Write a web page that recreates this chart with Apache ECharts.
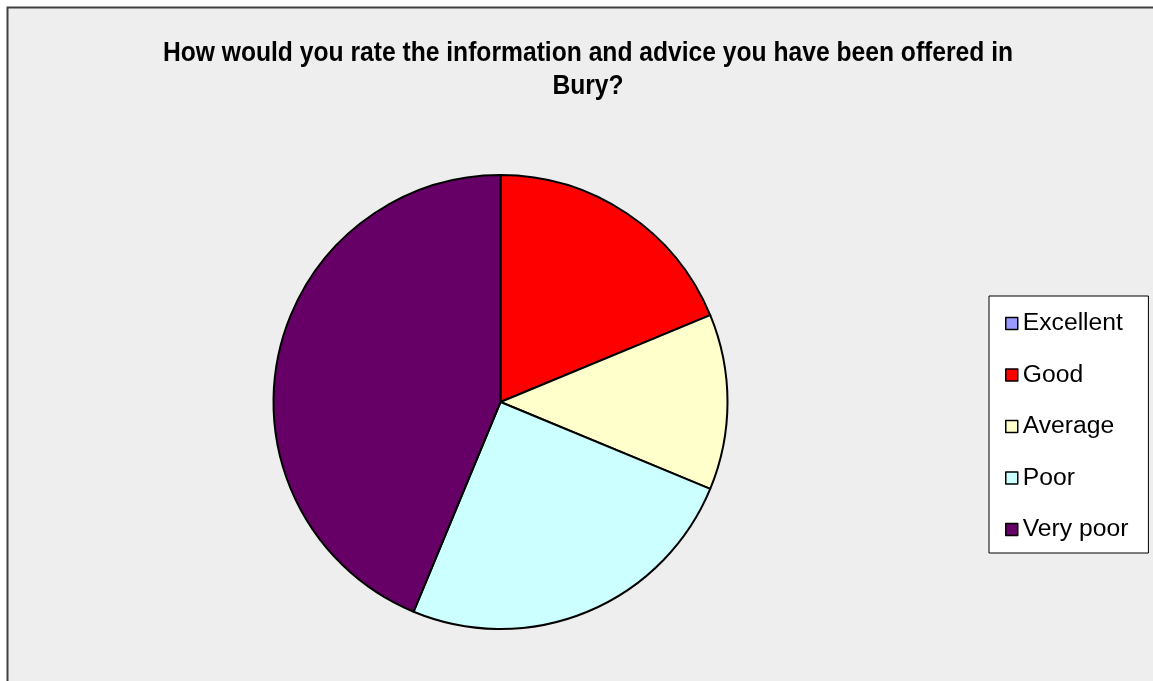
<!DOCTYPE html>
<html>
<head>
<meta charset="utf-8">
<script src="https://cdn.jsdelivr.net/npm/echarts@6/dist/echarts.min.js"></script>
<style>
  html, body { margin: 0; padding: 0; background: #ffffff; }
  #chart { width: 1153px; height: 681px; }
</style>
</head>
<body>
<div id="chart"></div>
<script>
// Survey responses: rating of information and advice offered in Bury
const categories = ['Excellent', 'Good', 'Average', 'Poor', 'Very poor'];
const responses = [0, 3, 2, 4, 7];
const sliceColors = ['#9999ff', '#ff0000', '#ffffcc', '#ccffff', '#660066'];
const titleText = 'How would you rate the information and advice you have been offered in\nBury?';

const chart = echarts.init(document.getElementById('chart'));

chart.setOption({
  animation: false,
  backgroundColor: '#ffffff',
  graphic: [
    {
      // chart area frame
      type: 'rect',
      shape: { x: 7.5, y: 7.5, width: 1150, height: 680 },
      style: { fill: '#eeeeee', stroke: '#404040', lineWidth: 2 },
      z: -10
    },
    {
      // condensed bold heading, two lines
      type: 'text',
      x: 588,
      y: 69.5,
      scaleX: 0.88,
      style: {
        text: titleText,
        fontFamily: 'Liberation Sans, Arial, sans-serif',
        fontSize: 28,
        fontWeight: 'bold',
        lineHeight: 33,
        fill: '#000000',
        align: 'center',
        verticalAlign: 'middle'
      }
    }
  ],
  legend: {
    orient: 'vertical',
    left: 989,
    top: 296,
    width: 158,
    padding: [15, 20, 11, 16],
    backgroundColor: '#ffffff',
    borderColor: '#000000',
    borderWidth: 1,
    borderRadius: 0,
    itemWidth: 12,
    itemHeight: 12,
    itemGap: 26.5,
    icon: 'rect',
    itemStyle: { borderColor: '#000000', borderWidth: 1.5 },
    textStyle: {
      fontFamily: 'Liberation Sans, Arial, sans-serif',
      fontSize: 24.7,
      color: '#000000',
      height: 24,
      lineHeight: 24
    },
    data: categories
  },
  series: [{
    type: 'pie',
    center: [500.5, 402],
    radius: [0, 227],
    startAngle: 90,
    clockwise: true,
    label: { show: false },
    labelLine: { show: false },
    emphasis: { disabled: true },
    itemStyle: { borderColor: '#000000', borderWidth: 2 },
    data: categories.map((name, i) => ({
      name: name,
      value: responses[i],
      itemStyle: { color: sliceColors[i] }
    }))
  }]
});
</script>
</body>
</html>
